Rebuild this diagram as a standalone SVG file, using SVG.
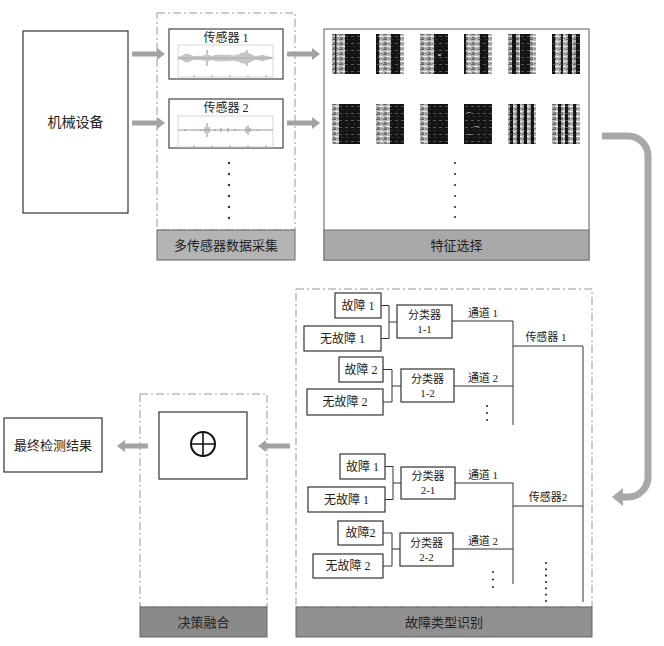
<svg xmlns="http://www.w3.org/2000/svg" width="664" height="646" viewBox="0 0 664 646">
<defs>
<style>
.box{fill:#fff;stroke:#333;stroke-width:1.2}
.sbox{fill:#fff;stroke:#444;stroke-width:1.2}
.dash{fill:none;stroke:#999;stroke-width:1;stroke-dasharray:8 3 2 3}
.t{font-family:"Liberation Serif","Noto Sans CJK SC",serif;fill:#222;text-anchor:middle}
.f12{font-size:12px}
.f11{font-size:11px}
.f13{font-size:13px}
.f14{font-size:14px}
.ln{fill:none;stroke:#333;stroke-width:1}
.arr{fill:none;stroke:#a3a3a3;stroke-width:5}
.big{fill:none;stroke:#a8a8a8;stroke-width:7}
.dot{fill:#333}
.wave{fill:none;stroke:#999;stroke-width:1.1}
</style>
<marker id="ah" markerUnits="userSpaceOnUse" markerWidth="8" markerHeight="12" refX="0" refY="6" orient="auto"><path d="M0,0 L8,6 L0,12 z" fill="#a3a3a3"/></marker>
<marker id="ah2" markerUnits="userSpaceOnUse" markerWidth="11" markerHeight="18" refX="0" refY="9" orient="auto"><path d="M0,0 L11,9 L0,18 z" fill="#a8a8a8"/></marker>
<pattern id="lt" width="7" height="5" patternUnits="userSpaceOnUse"><rect width="7" height="5" fill="#b8b8b8"/><rect x="0" y="0" width="4" height="1" fill="#666"/><rect x="3" y="2" width="4" height="1" fill="#eee"/><rect x="1" y="3.5" width="3" height="1" fill="#444"/><rect x="5" y="4" width="2" height="1" fill="#888"/></pattern>
<pattern id="dk" width="6" height="7" patternUnits="userSpaceOnUse"><rect width="6" height="7" fill="#141414"/><rect x="1" y="2" width="3" height="1" fill="#555"/><rect x="3" y="5" width="2" height="1" fill="#333"/></pattern>
</defs>
<rect width="664" height="646" fill="#fff"/>

<g id="machine"><rect class="box" x="23" y="31" width="105" height="182"/><text class="t f14" x="75.5" y="127">机械设备</text></g>

<g id="multi-sensor">
<rect class="dash" x="157" y="13" width="138" height="217"/>
<rect x="157" y="230" width="138" height="30" fill="#b4b4b4" stroke="#666"/>
<text class="t f13" x="226" y="250">多传感器数据采集</text>
<g id="sensor1">
<rect class="sbox" x="169" y="29" width="114" height="50"/>
<text class="t f12" x="226" y="42">传感器 1</text>
<rect x="178" y="45" width="95" height="32" fill="none" stroke="#ccc" stroke-width="0.8"/>
<path d="M178,58H273" stroke="#aaa" stroke-width="0.8"/>
<path class="wave" d="M179,56.5V59.5M181,56V60M183,55V61M185,54V62M187,53.5V62.5M189,54V62M191,55V61M193,56V60M195,56V60M197,55.5V60.5M199,56V60M201,56V60M203,55.5V60.5M205,55V61M207,50V66M209,55V61M211,56V60M213,55.5V60.5M215,55V61M217,54.5V61.5M219,55V61M221,54.5V61.5M223,55V61M225,55V61M227,54.5V61.5M229,55V61M231,55V61M233,55.5V60.5M235,55V61M237,54.5V61.5M239,54V62M241,53V63M243,52.5V63.5M245,52V64M247,50V66M249,53V63M251,54V62M253,55V61M255,56V60M257,56V60M259,55.5V60.5M261,55V61M263,55V61M265,55.5V60.5M267,56V60M269,56.5V59.5M271,57V59"/>
<path d="M194,77v-2M212,77v-2M230,77v-2M248,77v-2M266,77v-2" stroke="#999" stroke-width="0.8"/>
</g>
<g id="sensor2">
<rect class="sbox" x="169" y="99" width="114" height="49"/>
<text class="t f12" x="226" y="112">传感器 2</text>
<rect x="178" y="116" width="95" height="31" fill="none" stroke="#ccc" stroke-width="0.8"/>
<path d="M178,130H273" stroke="#999" stroke-width="1"/>
<path class="wave" d="M185,129V131M195,129.5V130.5M201,129V131M205,127V133M207,123V137M209,127V133M215,129V131M221,128V132M228,128V132M235,129V131M246,127V133M248,125V135M250,128V132M258,129V131"/>
<path d="M194,147v-2M212,147v-2M230,147v-2M248,147v-2M266,147v-2" stroke="#999" stroke-width="0.8"/>
</g>
<g class="dot"><circle cx="229" cy="163" r="1.2"/><circle cx="229" cy="174" r="1.2"/><circle cx="229" cy="185" r="1.2"/><circle cx="229" cy="196" r="1.2"/><circle cx="229" cy="207" r="1.2"/><circle cx="229" cy="218" r="1.2"/></g>
</g>

<g id="feature-selection">
<rect x="324" y="29" width="265" height="231" fill="#fff" stroke="#777" stroke-width="1.2"/>
<rect x="324" y="230" width="265" height="30" fill="#a9a9a9" stroke="#777"/>
<text class="t f13" x="456.5" y="250">特征选择</text>
<g transform="translate(332,34)"><rect width="28" height="40" fill="url(#lt)"/><rect x="13" width="15" height="40" fill="url(#dk)"/><rect x="3" width="1.5" height="40" fill="#222"/></g>
<g transform="translate(376,34)"><rect width="28" height="40" fill="url(#lt)"/><rect width="3" height="40" fill="url(#dk)"/><rect x="15" width="9" height="40" fill="url(#dk)"/></g>
<g transform="translate(420,34)"><rect width="28" height="40" fill="url(#lt)"/><rect x="14" width="14" height="40" fill="url(#dk)"/><rect x="18" y="20" width="3" height="2" fill="#999"/></g>
<g transform="translate(464,34)"><rect width="28" height="40" fill="url(#lt)"/><rect width="2" height="40" fill="url(#dk)"/><rect x="16" width="8" height="40" fill="url(#dk)"/></g>
<g transform="translate(508,34)"><rect width="28" height="40" fill="url(#lt)"/><rect x="4" width="4" height="40" fill="url(#dk)"/><rect x="12" width="10" height="40" fill="url(#dk)"/></g>
<g transform="translate(552,34)"><rect width="28" height="40" fill="url(#lt)"/><rect width="3" height="40" fill="url(#dk)"/><rect x="9" width="2" height="40" fill="url(#dk)"/><rect x="16" width="4" height="40" fill="url(#dk)"/><rect x="24" width="4" height="40" fill="url(#dk)"/></g>
<g transform="translate(332,104)"><rect width="28" height="40" fill="url(#lt)"/><rect x="7" width="21" height="40" fill="url(#dk)"/></g>
<g transform="translate(376,104)"><rect width="28" height="40" fill="url(#lt)"/><rect x="14" width="14" height="40" fill="url(#dk)"/></g>
<g transform="translate(420,104)"><rect width="28" height="40" fill="url(#lt)"/><rect x="8" width="20" height="40" fill="url(#dk)"/></g>
<g transform="translate(464,104)"><rect width="28" height="40" fill="url(#dk)"/><rect x="3" y="8" width="4" height="1" fill="#888"/><rect x="10" y="22" width="5" height="1" fill="#888"/><rect x="4" y="30" width="3" height="1" fill="#999"/></g>
<g transform="translate(508,104)"><rect width="28" height="40" fill="url(#lt)"/><rect x="2" width="3" height="40" fill="url(#dk)"/><rect x="9" width="3" height="40" fill="url(#dk)"/><rect x="16" width="3" height="40" fill="url(#dk)"/><rect x="23" width="3" height="40" fill="url(#dk)"/></g>
<g transform="translate(552,104)"><rect width="28" height="40" fill="url(#lt)"/><rect x="6" width="3" height="40" fill="url(#dk)"/><rect x="13" width="3" height="40" fill="url(#dk)"/><rect x="21" width="3" height="40" fill="url(#dk)"/></g>
<g class="dot"><circle cx="455" cy="163" r="1.1"/><circle cx="455" cy="174" r="1.1"/><circle cx="455" cy="185" r="1.1"/><circle cx="455" cy="196" r="1.1"/><circle cx="455" cy="207" r="1.1"/><circle cx="455" cy="217" r="1.1"/></g>
</g>

<g id="fault-identification">
<rect class="dash" x="296" y="289" width="296" height="318"/>
<rect x="296" y="607" width="296" height="30" fill="#909090" stroke="#666"/>
<text class="t f13" x="444" y="627">故障类型识别</text>
<g id="f11"><rect class="box" x="335" y="293" width="46" height="25"/><text class="t f12" x="358" y="310">故障 1</text></g>
<g id="nf11"><rect class="box" x="304" y="326" width="77" height="25"/><text class="t f12" x="342.5" y="343">无故障 1</text></g>
<g id="c11"><rect class="box" x="397" y="305" width="55" height="33"/><text class="t f11" x="424.5" y="319">分类器</text><text class="t f11" x="424.5" y="333">1-1</text></g>
<g id="f12"><rect class="box" x="339" y="357" width="44" height="25"/><text class="t f12" x="361" y="374">故障 2</text></g>
<g id="nf12"><rect class="box" x="307" y="389" width="76" height="26"/><text class="t f12" x="345" y="406">无故障 2</text></g>
<g id="c12"><rect class="box" x="401" y="369" width="53" height="33"/><text class="t f11" x="427.5" y="383">分类器</text><text class="t f11" x="427.5" y="397">1-2</text></g>
<g id="f21"><rect class="box" x="340" y="454" width="45" height="25"/><text class="t f12" x="362.5" y="471">故障 1</text></g>
<g id="nf21"><rect class="box" x="308" y="487" width="77" height="25"/><text class="t f12" x="346.5" y="504">无故障 1</text></g>
<g id="c21"><rect class="box" x="401" y="467" width="54" height="32"/><text class="t f11" x="428" y="480">分类器</text><text class="t f11" x="428" y="494">2-1</text></g>
<g id="f22"><rect class="box" x="338" y="521" width="45" height="24"/><text class="t f12" x="360.5" y="537">故障2</text></g>
<g id="nf22"><rect class="box" x="313" y="554" width="70" height="24"/><text class="t f12" x="348" y="570">无故障 2</text></g>
<g id="c22"><rect class="box" x="400" y="533" width="53" height="33"/><text class="t f11" x="426.5" y="547">分类器</text><text class="t f11" x="426.5" y="561">2-2</text></g>
<g class="t f11"><text x="483" y="317">通道 1</text><text x="483" y="382">通道 2</text><text x="546" y="341">传感器 1</text><text x="483" y="479">通道 1</text><text x="483" y="545">通道 2</text><text x="548" y="501">传感器2</text></g>
<g class="dot"><circle cx="487" cy="406" r="1.1"/><circle cx="487" cy="413" r="1.1"/><circle cx="487" cy="420" r="1.1"/><circle cx="493" cy="572" r="1.1"/><circle cx="493" cy="579.5" r="1.1"/><circle cx="493" cy="587" r="1.1"/><circle cx="546" cy="563" r="1.1"/><circle cx="546" cy="569.3" r="1.1"/><circle cx="546" cy="575.6" r="1.1"/><circle cx="546" cy="582" r="1.1"/><circle cx="546" cy="588.3" r="1.1"/><circle cx="546" cy="594.6" r="1.1"/><circle cx="546" cy="601" r="1.1"/></g>
</g>

<g id="decision-fusion">
<rect class="dash" x="140" y="394" width="127" height="213"/>
<rect x="140" y="607" width="127" height="30" fill="#8a8a8a" stroke="#666"/>
<text class="t f13" x="203.5" y="627">决策融合</text>
<g id="fusion"><rect class="box" x="159" y="412" width="88" height="67"/><circle cx="203" cy="444" r="12" fill="none" stroke="#111" stroke-width="2"/><path d="M191,444H215M203,432V456" stroke="#111" stroke-width="1.6"/></g>
</g>

<g id="result"><rect class="box" x="4" y="418" width="98" height="54"/><text class="t f13" x="53" y="450">最终检测结果</text></g>

<g id="connectors">
<path class="arr" d="M132,54H157" marker-end="url(#ah)"/>
<path class="arr" d="M132,123H157" marker-end="url(#ah)"/>
<path class="arr" d="M287,54H312" marker-end="url(#ah)"/>
<path class="arr" d="M287,123H312" marker-end="url(#ah)"/>
<path class="arr" d="M290,446H266" marker-end="url(#ah)"/>
<path class="arr" d="M148,446H125" marker-end="url(#ah)"/>
<path class="big" d="M602,136H628A20,20 0 0 1 648,156V477A20,20 0 0 1 628,497H623" marker-end="url(#ah2)"/>
<path class="ln" d="M381,305.5H389V338.5H381M389,322H397"/>
<path class="ln" d="M383,369.5H392V402H383M392,386H401"/>
<path class="ln" d="M385,466.5H393V499.5H385M393,483H401"/>
<path class="ln" d="M383,533H392V566H383M392,549H400"/>
<path class="ln" d="M452,321H513V425M454,386H513"/>
<path class="ln" d="M513,346H583V602"/>
<path class="ln" d="M455,483H513V584M453,549H513M513,506H583"/>
</g>
</svg>
